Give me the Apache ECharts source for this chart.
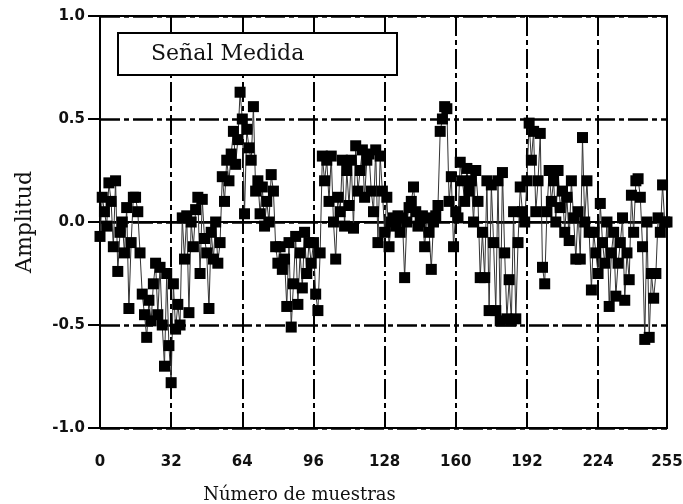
<!DOCTYPE html>
<html>
<head>
<meta charset="utf-8">
<script src="https://cdn.jsdelivr.net/npm/echarts@6/dist/echarts.min.js"></script>
<style>
  html, body { margin: 0; padding: 0; background: #fff; }
  #chart { width: 683px; height: 504px; }
</style>
</head>
<body>
<div id="chart"></div>
<script>
// Sampled signal: one amplitude per sample index 0..255
const amplitud = [
  -0.07, 0.12, 0.05, -0.02, 0.19, 0.10, -0.12, 0.20, -0.24, -0.05, 0.00, -0.15, 0.07, -0.42, -0.10, 0.12,
  0.12, 0.05, -0.15, -0.35, -0.45, -0.56, -0.38, -0.48, -0.30, -0.20, -0.45, -0.22, -0.50, -0.70, -0.25, -0.60,
  -0.78, -0.30, -0.52, -0.40, -0.50, 0.02, -0.18, 0.03, -0.44, 0.00, -0.12, 0.06, 0.12, -0.25, 0.11, -0.08,
  -0.15, -0.42, -0.05, -0.18, 0.00, -0.20, -0.10, 0.22, 0.10, 0.30, 0.20, 0.33, 0.44, 0.28, 0.40, 0.63,
  0.50, 0.04, 0.45, 0.36, 0.30, 0.56, 0.15, 0.20, 0.04, 0.17, -0.02, 0.10, 0.00, 0.23, 0.15, -0.12,
  -0.20, -0.12, -0.23, -0.18, -0.41, -0.10, -0.51, -0.30, -0.07, -0.40, -0.15, -0.32, -0.05, -0.25, -0.10, -0.20,
  -0.10, -0.35, -0.43, -0.15, 0.32, 0.20, 0.30, 0.10, 0.32, 0.00, -0.18, 0.12, 0.05, 0.30, -0.02, 0.25,
  0.08, 0.30, -0.03, 0.37, 0.15, 0.25, 0.35, 0.12, 0.30, 0.33, 0.15, 0.05, 0.35, -0.10, 0.32, 0.15,
  -0.05, 0.12, -0.12, 0.00, 0.02, -0.02, 0.03, -0.05, 0.02, -0.27, 0.00, 0.07, 0.10, 0.17, 0.05, -0.02,
  0.00, 0.03, -0.12, 0.02, -0.05, -0.23, 0.00, 0.03, 0.08, 0.44, 0.50, 0.56, 0.55, 0.10, 0.22, -0.12,
  0.05, 0.02, 0.29, 0.20, 0.10, 0.26, 0.15, 0.20, 0.00, 0.25, 0.10, -0.27, -0.05, -0.27, 0.20, -0.43,
  0.18, -0.10, -0.43, 0.20, -0.48, 0.24, -0.15, -0.47, -0.28, -0.48, 0.05, -0.47, -0.10, 0.17, 0.05, 0.00,
  0.20, 0.48, 0.30, 0.44, 0.05, 0.20, 0.43, -0.22, -0.30, 0.05, 0.25, 0.10, 0.20, 0.00, 0.25, 0.07,
  0.15, -0.05, 0.12, -0.09, 0.20, 0.02, -0.18, 0.05, -0.18, 0.41, 0.00, 0.20, -0.05, -0.33, -0.05, -0.15,
  -0.25, 0.09, -0.10, -0.20, 0.00, -0.41, -0.15, -0.05, -0.36, -0.20, -0.10, 0.02, -0.38, -0.15, -0.28, 0.13,
  -0.05, 0.20, 0.21, 0.12, -0.12, -0.57, 0.00, -0.56, -0.25, -0.37, -0.25, 0.02, -0.05, 0.18, 0.00, 0.00
];

// Axis extents and tick steps
const xRange = [0, 255];
const xStep = 32;
const yRange = [-1, 1];
const yStep = 0.5;

const serieNombre = 'Señal Medida';
const xTitulo = 'Número de muestras';
const yTitulo = 'Amplitud';

const puntos = amplitud.map((v, i) => [i, v]);

const gridDash = [20, 4, 5, 4];
const tickFont = { fontFamily: 'DejaVu Sans', fontWeight: 'bold', fontSize: 15, color: '#111' };

const chart = echarts.init(document.getElementById('chart'), null, { renderer: 'canvas' });
chart.setOption({
  animation: false,
  backgroundColor: '#fff',
  grid: {
    left: 100, right: 16, top: 16, bottom: 76,
    outerBoundsMode: 'none',
    containLabel: false,
    show: true, borderColor: '#000', borderWidth: 2, backgroundColor: 'transparent'
  },
  xAxis: {
    type: 'value',
    min: xRange[0], max: xRange[1], interval: xStep,
    name: xTitulo,
    nameLocation: 'middle',
    nameGap: 58,
    nameTextStyle: { fontFamily: 'DejaVu Serif', fontSize: 18, color: '#111', padding: [0, 168, 0, 0] },
    axisLine: { show: true, lineStyle: { color: '#000', width: 2 } },
    axisTick: { show: true, inside: false, length: 10, lineStyle: { color: '#000', width: 2 } },
    axisLabel: Object.assign({ margin: 27 }, tickFont),
    splitLine: { show: true, lineStyle: { color: '#000', width: 2, type: gridDash } }
  },
  yAxis: {
    type: 'value',
    min: yRange[0], max: yRange[1], interval: yStep,
    name: yTitulo,
    nameLocation: 'middle',
    nameGap: 64,
    nameRotate: 90,
    nameTextStyle: { fontFamily: 'DejaVu Serif', fontSize: 22, color: '#111' },
    axisLine: { show: true, lineStyle: { color: '#000', width: 2 } },
    axisTick: { show: true, inside: false, length: 12, lineStyle: { color: '#000', width: 2 } },
    axisLabel: Object.assign({ margin: 15, formatter: v => v.toFixed(1) }, tickFont),
    splitLine: { show: true, lineStyle: { color: '#000', width: 2.5, type: gridDash } }
  },
  graphic: [
    {
      type: 'group',
      left: 117, top: 32,
      children: [
        { type: 'rect', shape: { x: 0, y: 0, width: 279, height: 42 },
          style: { fill: '#fff', stroke: '#000', lineWidth: 2 }, z: 10 },
        { type: 'text', x: 33, y: 21,
          style: { text: serieNombre, fontFamily: 'DejaVu Serif', fontSize: 22, fill: '#111',
                   verticalAlign: 'middle', align: 'left' }, z: 11 }
      ]
    }
  ],
  series: [
    {
      name: serieNombre,
      type: 'line',
      data: puntos,
      symbol: 'rect',
      symbolSize: 11,
      showAllSymbol: true,
      itemStyle: { color: '#000' },
      lineStyle: { color: '#333', width: 1 },
      z: 5
    }
  ]
});
</script>
</body>
</html>
